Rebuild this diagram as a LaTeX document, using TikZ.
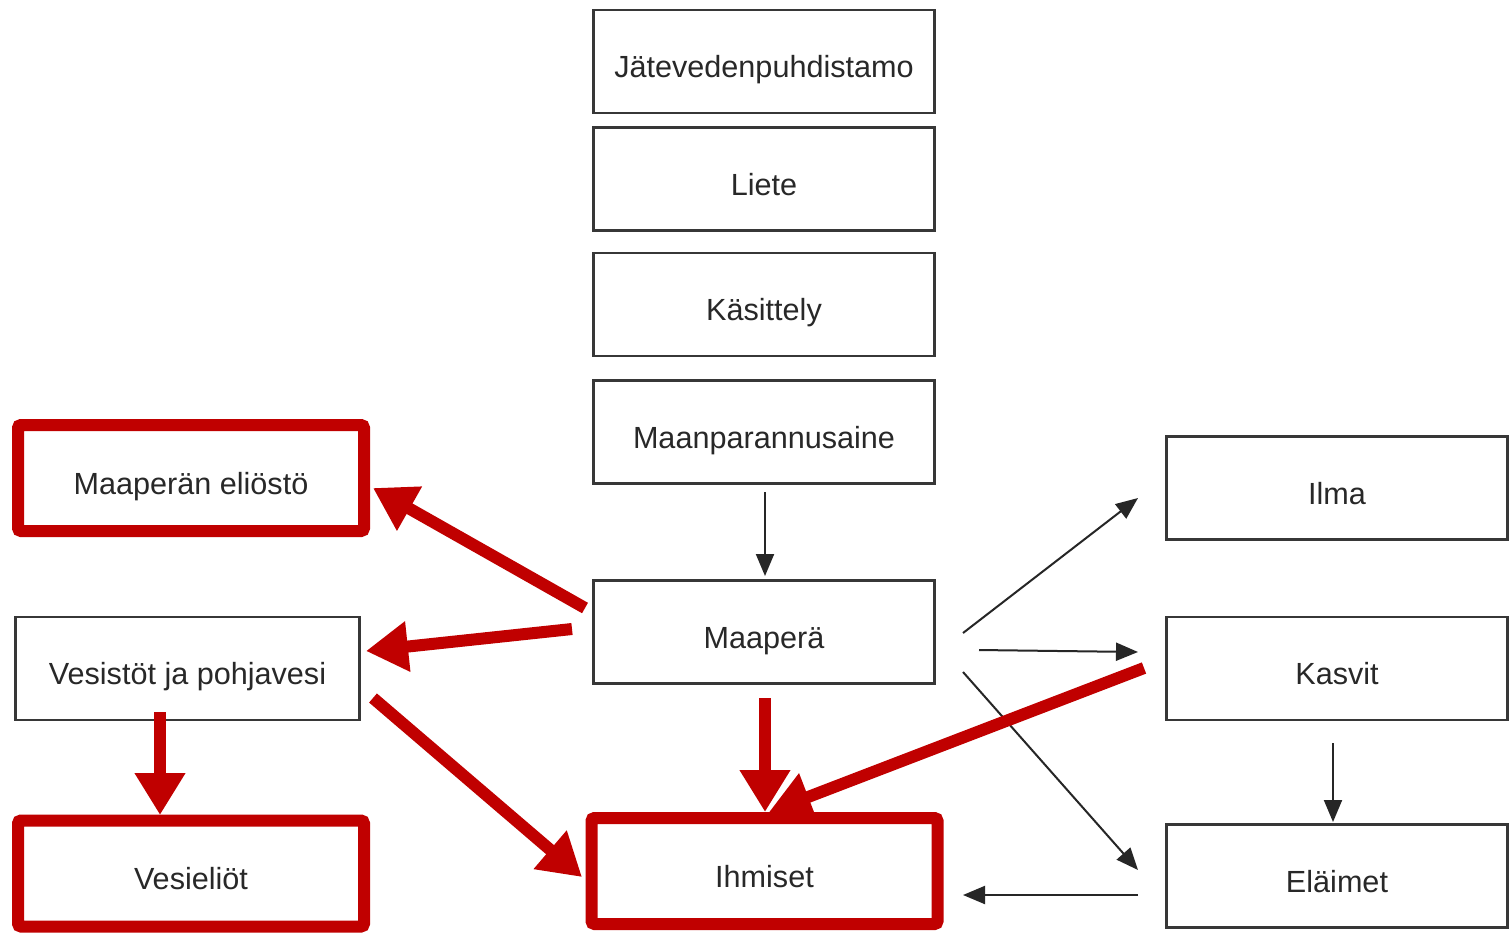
\documentclass[tikz,border=0pt]{standalone}
\usepackage{fontspec}
\setmainfont{Liberation Sans}
\usetikzlibrary{arrows.meta,calc}
\definecolor{boxred}{RGB}{192,0,0}
\definecolor{boxline}{RGB}{55,55,55}
\definecolor{txt}{RGB}{40,40,40}
\begin{document}
\begin{tikzpicture}[x=0.5pt,y=-0.5pt,
  every node/.style={font=\fontsize{15.3}{18}\selectfont, text=txt, text height=16pt, text depth=0pt, inner sep=0pt},
  plainbox/.style={draw=boxline, line width=1.4pt, fill=white, minimum width=170.5pt, minimum height=51.5pt},
  redbox/.style={draw=boxred, line width=6pt, fill=white, rounded corners=1.5pt, minimum width=173pt, minimum height=53pt},
  blk/.style={draw=black!85, line width=1pt, -{Triangle[length=11pt,width=9pt]}},
  redarr/.style={draw=boxred, fill=boxred, line width=6pt, -{Triangle[length=21pt,width=24pt]}}]
\useasboundingbox (0,0) rectangle (1510,933);
\fill[white] (0,0) rectangle (1510,933);
% plain boxes
\node[plainbox] (j) at (764,61.5) {Jätevedenpuhdistamo};
\node[plainbox] (li) at (764,179) {Liete};
\node[plainbox] (ka) at (764,304.5) {Käsittely};
\node[plainbox] (mpa) at (764,432) {Maanparannusaine};
\node[plainbox] (mp) at (764,632) {Maaperä};
\node[plainbox] (il) at (1337,488) {Ilma};
\node[plainbox] (kv) at (1337,668.5) {Kasvit};
\node[plainbox] (el) at (1337,876) {Eläimet};
\node[plainbox, minimum width=172pt] (vp) at (187.5,668.5) {Vesistöt ja pohjavesi};
% red boxes
\node[redbox] (me) at (191,478) {Maaperän eliöstö};
\node[redbox] (ve) at (191,873.5) {Vesieliöt};
\node[redbox] (ih) at (764.5,871) {Ihmiset};
% black arrows
\draw[blk] ($(mpa.center)+(1,60)$) -- ($(mp.center)+(1,-56)$);
\draw[blk] ($(mp.center)+(199,1)$) -- ($(il.center)+(-199,10)$);
\draw[blk] ($(mp.center)+(215,18)$) -- ($(kv.center)+(-199,-16.5)$);
\draw[blk] ($(mp.center)+(199,40)$) -- ($(el.center)+(-199,-6)$);
\draw[blk] ($(kv.center)+(-4,74.5)$) -- ($(el.center)+(-4,-54)$);
\draw[blk] ($(el.center)+(-199,19)$) -- ($(ih.center)+(198.5,24)$);
% red arrows
\draw[redarr] ($(mp.center)+(-179,-24)$) -- ($(me.center)+(182,10)$);
\draw[redarr] ($(mp.center)+(-192,-3)$) -- ($(vp.center)+(178.5,-17.5)$);
\draw[redarr] ($(vp.center)+(-27.5,43.5)$) -- ($(ve.center)+(-31,-58.5)$);
\draw[redarr] ($(vp.center)+(185.5,29.5)$) -- ($(ih.center)+(-182.5,6)$);
\draw[redarr] ($(mp.center)+(1,66)$) -- ($(ih.center)+(0.5,-59)$);
\draw[redarr] ($(kv.center)+(-193,-0.5)$) -- ($(ih.center)+(4.5,-59)$);
\end{tikzpicture}
\end{document}
